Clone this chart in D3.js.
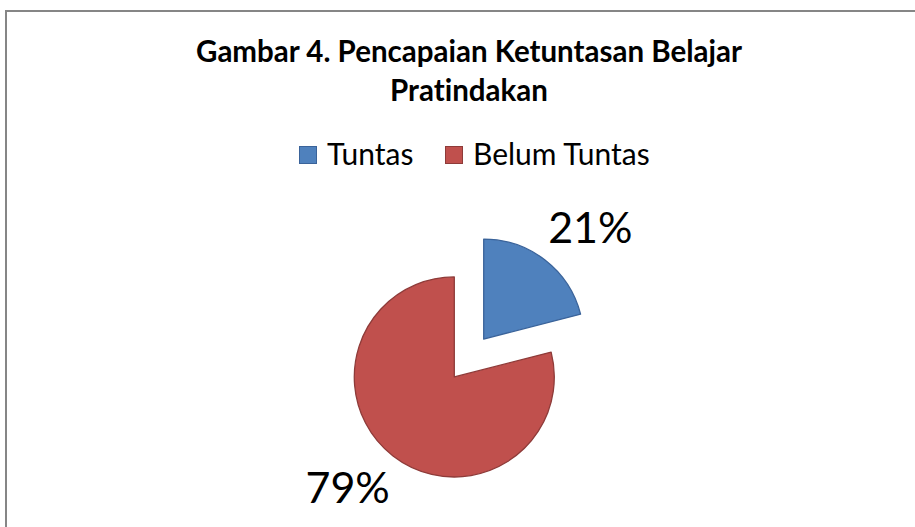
<!DOCTYPE html>
<html>
<head>
<meta charset="utf-8">
<script src="https://cdn.jsdelivr.net/npm/d3@7"></script>
<style>
  body { margin: 0; background: #fff; }
  text { font-family: Lato, "Open Sans", sans-serif; fill: #000; font-variant-ligatures: none; }
</style>
</head>
<body>
<div class="chart"></div>
<script>
(function() {
  var categories = ["Tuntas", "Belum Tuntas"];
  var values = [21, 79];
  var valueLabels = ["21%", "79%"];
  var titleLines = ["Gambar 4. Pencapaian Ketuntasan Belajar", "Pratindakan"];

  var width = 915,
    height = 527,
    center = { x: 469, y: 358 },
    r = 100,
    explode = 24;

  var fills = ["#4f81bd", "#c0504d"],
    strokes = ["#3a639a", "#8e3b39"];

  var svg = d3.select(".chart").append("svg")
    .attr("width", width)
    .attr("height", height);

  // chart area border
  svg.append("rect")
    .attr("x", 6)
    .attr("y", 11)
    .attr("width", width + 20)
    .attr("height", height + 20)
    .attr("fill", "#fff")
    .attr("stroke", "#868686")
    .attr("stroke-width", 2);

  // title
  svg.append("g").selectAll("text")
    .data(titleLines)
    .enter().append("text")
      .attr("x", 469)
      .attr("y", function(d, i) { return 62 + i * 39; })
      .attr("text-anchor", "middle")
      .style("font-weight", "bold")
      .style("font-size", "29.5px")
      .text(function(d) { return d; });

  // legend
  var legendX = [299, 445];
  var lg = svg.append("g").selectAll("g")
    .data(categories)
    .enter().append("g")
      .attr("transform", function(d, i) { return "translate(" + legendX[i] + ",146)"; });
  lg.append("rect")
    .attr("x", 0.5)
    .attr("y", 0.5)
    .attr("width", 17)
    .attr("height", 17)
    .attr("fill", function(d, i) { return fills[i]; })
    .attr("stroke", function(d, i) { return strokes[i]; });
  lg.append("text")
    .attr("x", 28)
    .attr("y", 19)
    .style("font-size", "30px")
    .text(function(d) { return d; });

  // pie
  var pie = d3.pie().sort(null).value(function(d) { return d; });
  var arc = d3.arc().innerRadius(0).outerRadius(r);
  var arcs = pie(values);

  var g = svg.append("g").attr("transform", "translate(" + center.x + "," + center.y + ")");

  function mid(d) { return (d.startAngle + d.endAngle) / 2; }

  g.selectAll("path")
    .data(arcs)
    .enter().append("path")
      .attr("transform", function(d) {
        var a = mid(d);
        return "translate(" + (Math.sin(a) * explode) + "," + (-Math.cos(a) * explode) + ")";
      })
      .attr("d", arc)
      .attr("fill", function(d, i) { return fills[i]; })
      .attr("stroke", function(d, i) { return strokes[i]; })
      .attr("stroke-width", 1.3)
      .attr("stroke-linejoin", "round");

  // data labels
  g.selectAll("text")
    .data(arcs)
    .enter().append("text")
      .attr("x", function(d) { return Math.sin(mid(d)) * 198; })
      .attr("y", function(d) { return -Math.cos(mid(d)) * 165 + 15; })
      .attr("text-anchor", "middle")
      .style("font-size", "43px")
      .text(function(d, i) { return valueLabels[i]; });
})();
</script>
</body>
</html>
